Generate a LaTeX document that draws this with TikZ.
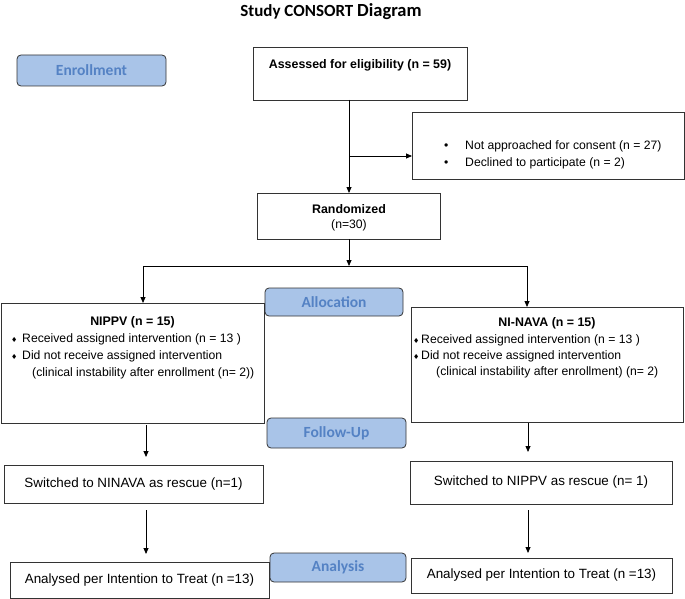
\documentclass[tikz,border=0pt]{standalone}
\usepackage{fontspec}
\setmainfont{Liberation Sans}
\newfontfamily\carl{Carlito}
\newfontfamily\dejavu{DejaVu Sans}
\usetikzlibrary{arrows.meta}
\definecolor{lblfill}{RGB}{169,196,232}
\definecolor{lbltext}{RGB}{84,130,196}
\definecolor{lnc}{RGB}{51,51,51}
\newcommand{\mydia}{{\dejavu\fontsize{7}{7}\selectfont ♦}}
\begin{document}
\begin{tikzpicture}[x=1pt,y=-1pt,
  box/.style={draw=lnc, line width=0.8pt, inner sep=0pt, outer sep=0pt},
  lbl/.style={draw=lnc, fill=lblfill, rounded corners=4pt, line width=0.8pt,
    font=\carl\bfseries\fontsize{15.5}{18}\selectfont, text=lbltext, inner sep=0pt, outer sep=0pt},
  txt/.style={inner sep=0pt, font=\fontsize{12.2}{17}\selectfont},
  btxt/.style={inner sep=0pt, font=\bfseries\fontsize{12.4}{17}\selectfont},
  ltxt/.style={inner sep=0pt, font=\fontsize{13.4}{17}\selectfont},
  arr/.style={draw=black, line width=0.8pt, -{Triangle[length=6pt,width=5pt]}},
  ln/.style={draw=black, line width=0.8pt}]
\useasboundingbox (0,0) rectangle (685,599);

% title
\node[inner sep=0pt, font=\carl\bfseries\fontsize{17}{20}\selectfont] (title) at (331,12)
  {Study CONSORT {\fontsize{18.5}{20}\selectfont Diagram}};

% stage labels
\node[lbl, minimum width=149pt, minimum height=31pt] (enroll) at (91.5,70.5) {Enrollment};
\node[lbl, minimum width=138pt, minimum height=28pt] (alloc) at (334,302) {Allocation};
\node[lbl, minimum width=139pt, minimum height=30pt] (follow) at (336.5,433) {Follow-Up};
\node[lbl, minimum width=136pt, minimum height=29pt] (analysis) at (338,567.5) {Analysis};

% boxes
\node[box, minimum width=214pt, minimum height=53pt] (assessed) at (360,73.5) {};
\node[btxt] (assessedtxt) at (360,65) {Assessed for eligibility (n = 59)};

\node[box, minimum width=272pt, minimum height=67pt] (excl) at (548,145.5) {};
\node[txt, anchor=west] (ex1) at (444,146) {\makebox[21pt][l]{•}Not approached for consent (n = 27)};
\node[txt, anchor=west] (ex2) at (444,163) {\makebox[21pt][l]{•}Declined to participate (n = 2)};

\node[box, minimum width=183pt, minimum height=46pt] (rand) at (349,216) {};
\node[btxt] (randtxt) at (349,209) {Randomized};
\node[txt] (randn) at (349,225) {(n=30)};

\node[box, minimum width=263pt, minimum height=120pt] (nippv) at (132.5,363) {};
\node[btxt] (nippvt) at (132.5,322) {NIPPV (n = 15)};
\node[txt, anchor=west] (np1) at (11,339) {\makebox[11pt][l]{\mydia}Received assigned intervention (n = 13 )};
\node[txt, anchor=west] (np2) at (11,356) {\makebox[11pt][l]{\mydia}Did not receive assigned intervention};
\node[txt, anchor=west] (np3) at (32,373) {(clinical instability after enrollment (n= 2))};

\node[box, minimum width=272pt, minimum height=115pt] (ninava) at (547,364.5) {};
\node[btxt] (ninavat) at (547,323) {NI-NAVA (n = 15)};
\node[txt, anchor=west] (nn1) at (413,340) {\makebox[8pt][l]{\mydia}Received assigned intervention (n = 13 )};
\node[txt, anchor=west] (nn2) at (413,356) {\makebox[8pt][l]{\mydia}Did not receive assigned intervention};
\node[txt, anchor=west] (nn3) at (436,372) {(clinical instability after enrollment) (n= 2)};

\node[box, ltxt, minimum width=259pt, minimum height=38pt] (swL) at (133.5,484) {Switched to NINAVA as rescue (n=1)};
\node[box, ltxt, minimum width=259pt, minimum height=36pt] (anL) at (139.5,580) {Analysed per Intention to Treat (n =13)};
\node[box, ltxt, minimum width=262pt, minimum height=43pt] (swR) at (541,482.5) {Switched to NIPPV as rescue (n= 1)};
\node[box, ltxt, minimum width=261pt, minimum height=35pt] (anR) at (541.5,575.5) {Analysed per Intention to Treat (n =13)};

% connectors
\coordinate (br) at (349,156);
\coordinate (split) at (349,266);
\coordinate (L) at (143,266);
\coordinate (R) at (527,266);
\coordinate (xL) at (146,0);
\coordinate (xR) at (528,0);

\draw[arr] (assessed.south -| rand.north) -- (rand.north);
\draw[arr] (br) -- (br -| excl.west);
\draw[arr] (rand.south) -- (split);
\draw[ln] (L) -- (R);
\draw[arr] (L) -- (L |- nippv.north);
\draw[arr] (R) -- (R |- ninava.north);

\draw[arr, shorten <=2pt, shorten >=8pt] (xL |- nippv.south) -- (xL |- swL.north);
\draw[arr, shorten <=7pt, shorten >=8pt] (xL |- swL.south) -- (xL |- anL.north);
\draw[arr, shorten <=1pt, shorten >=9pt] (xR |- ninava.south) -- (xR |- swR.north);
\draw[arr, shorten <=6pt, shorten >=5pt] (xR |- swR.south) -- (xR |- anR.north);
\end{tikzpicture}
\end{document}
